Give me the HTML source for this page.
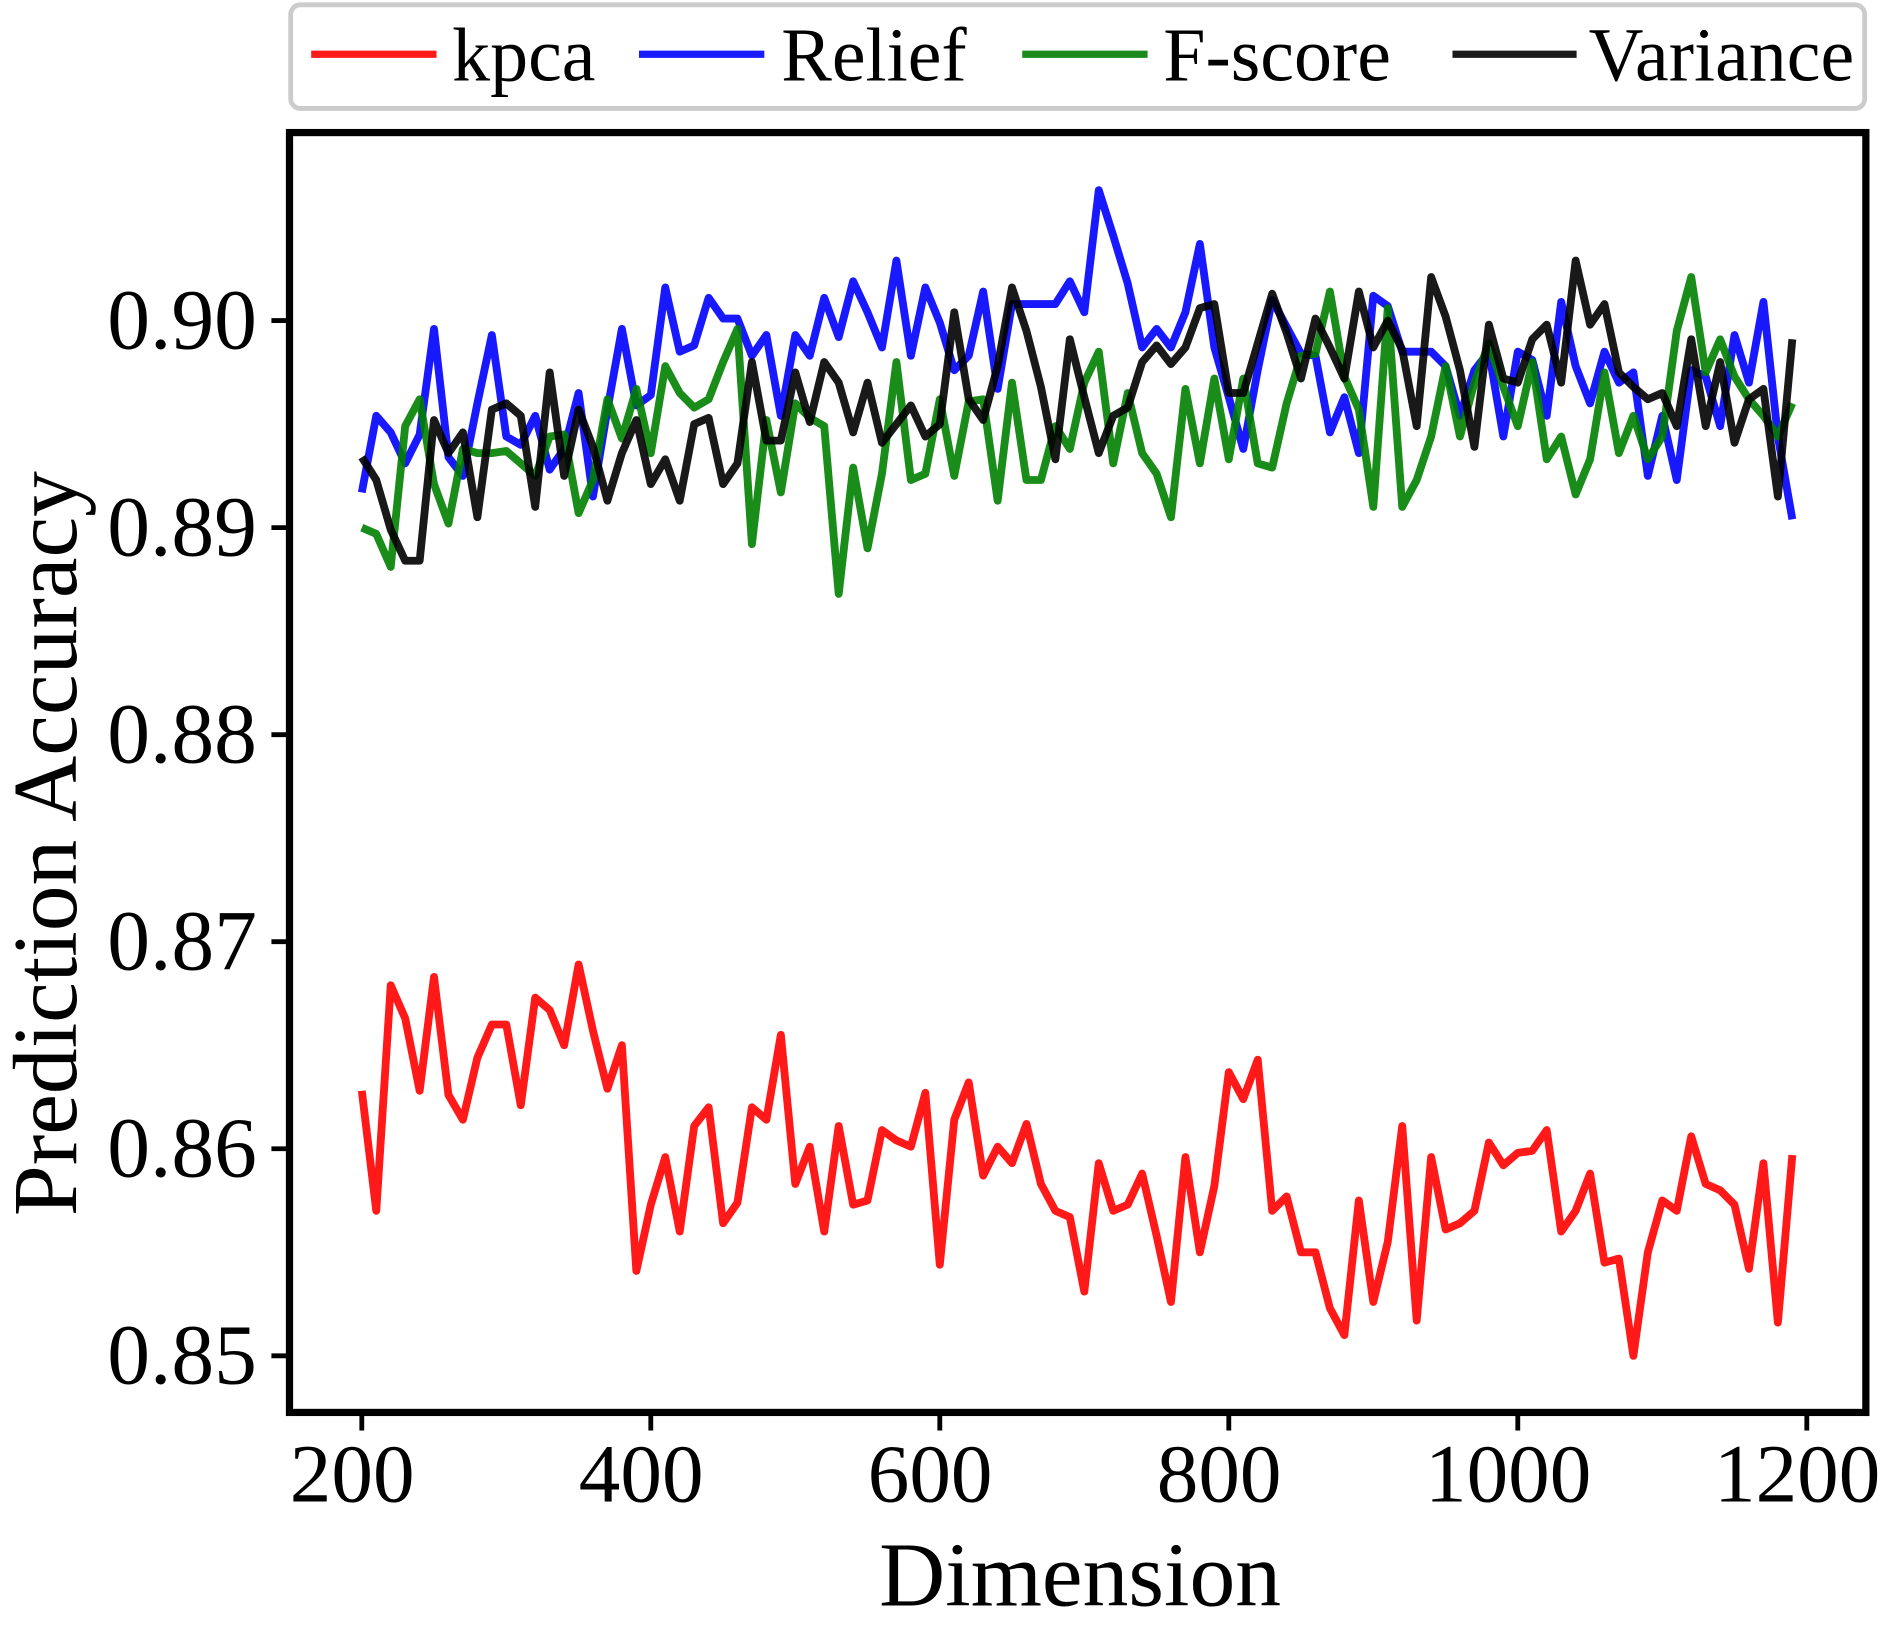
<!DOCTYPE html>
<html><head><meta charset="utf-8"><style>
html,body{margin:0;padding:0;background:#fff;}
svg{display:block;}
text{font-family:"Liberation Serif",serif;fill:#000;}
</style></head><body>
<svg id="chart" width="1889" height="1633" viewBox="0 0 1567 1355" xmlns="http://www.w3.org/2000/svg">
<g id="legend">
<rect x="241" y="4" width="1306" height="86" rx="8" fill="#fff" stroke="#cccccc" stroke-width="4"/>
<g><line x1="258" y1="45" x2="362" y2="45" stroke="#ff1a1a" stroke-width="6"/><text x="375" y="67" font-size="63">kpca</text></g>
<g><line x1="530" y1="45" x2="634" y2="45" stroke="#1a1aff" stroke-width="6"/><text x="648" y="67" font-size="63">Relief</text></g>
<g><line x1="848" y1="45" x2="952" y2="45" stroke="#1a8a1a" stroke-width="6"/><text x="965" y="67" font-size="63">F-score</text></g>
<g><line x1="1205" y1="45" x2="1308" y2="45" stroke="#1a1a1a" stroke-width="6"/><text x="1318" y="67" font-size="63">Variance</text></g>
</g>
<g id="series"></g>
<rect x="240" y="110" width="1308" height="1062" fill="none" stroke="#000" stroke-width="6"/>
<g id="axes"></g>
<text x="896" y="1332" font-size="76" text-anchor="middle">Dimension</text>
<text transform="translate(63,700) rotate(-90)" font-size="76" text-anchor="middle">Prediction Accuracy</text>
</svg>
<script>
const xTicks = [200,400,600,800,1000,1200];
const yTicks = [0.85,0.86,0.87,0.88,0.89,0.90];
const yTickLabels = ["0.85","0.86","0.87","0.88","0.89","0.90"];
const dims = [];
for (let d = 200; d <= 1190; d += 10) dims.push(d);
const kpca = [0.8628,0.857,0.8679,0.8663,0.8628,0.8683,0.8626,0.8614,0.8644,0.866,
0.866,0.8621,0.8673,0.8667,0.865,0.8689,0.8657,0.8629,0.865,0.8541,
0.8573,0.8596,0.856,0.8611,0.862,0.8564,0.8574,0.862,0.8614,0.8655,
0.8583,0.8601,0.856,0.8611,0.8573,0.8575,0.8609,0.8604,0.8601,0.8627,
0.8544,0.8614,0.8632,0.8587,0.8601,0.8593,0.8612,0.8583,0.857,0.8567,
0.8531,0.8593,0.857,0.8573,0.8588,0.8558,0.8526,0.8596,0.855,0.8582,
0.8637,0.8624,0.8643,0.857,0.8577,0.855,0.855,0.8523,0.851,0.8575,
0.8526,0.8555,0.8611,0.8517,0.8596,0.8561,0.8564,0.857,0.8603,0.8592,
0.8598,0.8599,0.8609,0.856,0.857,0.8588,0.8545,0.8547,0.85,0.855,
0.8575,0.857,0.8606,0.8583,0.858,0.8573,0.8542,0.8593,0.8516,0.8597];
const relief = [0.8917,0.8954,0.8946,0.8931,0.8945,0.8996,0.8934,0.8925,0.896,0.8993,
0.8944,0.894,0.8954,0.8928,0.8938,0.8965,0.8915,0.8957,0.8996,0.8959,
0.8964,0.9016,0.8985,0.8988,0.9011,0.9001,0.9001,0.8983,0.8993,0.8954,
0.8993,0.8983,0.9011,0.8992,0.9019,0.9004,0.8987,0.9029,0.8983,0.9016,
0.8999,0.8976,0.8983,0.9014,0.8967,0.9008,0.9008,0.9008,0.9008,0.9019,
0.9004,0.9063,0.9041,0.9018,0.8987,0.8996,0.8987,0.9004,0.9037,0.8987,
0.8963,0.8938,0.8976,0.901,0.8997,0.8984,0.8983,0.8946,0.8963,0.8936,
0.9012,0.9007,0.8985,0.8985,0.8985,0.8978,0.8954,0.8976,0.8985,0.8944,
0.8985,0.8981,0.8954,0.9009,0.8978,0.896,0.8985,0.897,0.8975,0.8925,
0.8954,0.8923,0.8976,0.8973,0.8949,0.8993,0.897,0.9009,0.8944,0.8904];
const fscore = [0.89,0.8897,0.8881,0.8949,0.8962,0.8921,0.8902,0.8938,0.8936,0.8936,
0.8937,0.8931,0.8925,0.8944,0.8945,0.8907,0.8923,0.8962,0.8943,0.8967,
0.8936,0.8978,0.8965,0.8958,0.8962,0.898,0.8996,0.8892,0.8952,0.8917,
0.896,0.8953,0.8949,0.8868,0.8929,0.889,0.8926,0.898,0.8923,0.8926,
0.8962,0.8925,0.8961,0.8962,0.8913,0.897,0.8923,0.8923,0.8949,0.8938,
0.897,0.8985,0.8931,0.8965,0.8936,0.8926,0.8905,0.8967,0.8931,0.8972,
0.8933,0.8972,0.8931,0.8929,0.896,0.8983,0.8984,0.9014,0.8973,0.8957,
0.891,0.9006,0.891,0.8923,0.8944,0.8978,0.8944,0.897,0.8989,0.8968,
0.8949,0.898,0.8933,0.8944,0.8916,0.8933,0.8975,0.8936,0.8954,0.8933,
0.8944,0.8995,0.9021,0.8975,0.8991,0.8973,0.8962,0.8954,0.8944,0.896];
const variance = [0.8934,0.8923,0.8899,0.8884,0.8884,0.8952,0.8936,0.8946,0.8905,0.8957,
0.896,0.8954,0.891,0.8975,0.8925,0.8957,0.8939,0.8913,0.8936,0.8952,
0.8921,0.8933,0.8913,0.895,0.8953,0.8921,0.8931,0.898,0.8942,0.8942,
0.8975,0.8951,0.898,0.897,0.8946,0.897,0.8941,0.895,0.8959,0.8944,
0.895,0.9004,0.8962,0.8952,0.8978,0.9016,0.8995,0.8968,0.8933,0.8991,
0.8963,0.8936,0.8954,0.8958,0.898,0.8988,0.8979,0.8987,0.9006,0.9008,
0.8965,0.8965,0.8989,0.9013,0.8994,0.8972,0.9001,0.8987,0.8972,0.9014,
0.8987,0.9,0.8986,0.8949,0.9021,0.9002,0.8976,0.8939,0.8998,0.8972,
0.897,0.8991,0.8998,0.897,0.9029,0.8998,0.9008,0.8975,0.8968,0.8962,
0.8965,0.8949,0.8991,0.8949,0.898,0.8941,0.8962,0.8967,0.8915,0.8991];

const NS = "http://www.w3.org/2000/svg";
function xScale(d){ return 300 + (d - 200) * 1199 / 1000; }
function yScale(v){ return 266 + (0.90 - v) * 17180; }

const seriesG = document.getElementById("series");
function drawSeries(vals, color, name){
  const p = document.createElementNS(NS, "polyline");
  p.setAttribute("points", vals.map((v,i)=>xScale(dims[i]).toFixed(1)+","+yScale(v).toFixed(1)).join(" "));
  p.setAttribute("fill", "none");
  p.setAttribute("stroke", color);
  p.setAttribute("stroke-width", "6.5");
  p.setAttribute("stroke-linejoin", "round");
  p.setAttribute("stroke-opacity", "0.9");
  
  
  seriesG.appendChild(p);
}
drawSeries(kpca, "#ff0000", "kpca-line");
drawSeries(relief, "#0000ff", "relief-line");
drawSeries(fscore, "#007f00", "fscore-line");
drawSeries(variance, "#000000", "variance-line");

const axesG = document.getElementById("axes");
xTicks.forEach(t=>{
  const x = xScale(t);
  const l = document.createElementNS(NS, "line");
  l.setAttribute("x1", x); l.setAttribute("x2", x);
  l.setAttribute("y1", 1172); l.setAttribute("y2", 1187);
  l.setAttribute("stroke", "#000"); l.setAttribute("stroke-width", "4");
  
  
  axesG.appendChild(l);
  const tx = document.createElementNS(NS, "text");
  tx.setAttribute("x", x - 8); tx.setAttribute("y", 1246);
  tx.setAttribute("font-size", "69"); tx.setAttribute("text-anchor", "middle");
  tx.textContent = String(t);
  
  
  axesG.appendChild(tx);
});
yTicks.forEach((t,i)=>{
  const y = yScale(t);
  const l = document.createElementNS(NS, "line");
  l.setAttribute("x1", 225); l.setAttribute("x2", 240);
  l.setAttribute("y1", y); l.setAttribute("y2", y);
  l.setAttribute("stroke", "#000"); l.setAttribute("stroke-width", "4");
  
  
  axesG.appendChild(l);
  const tx = document.createElementNS(NS, "text");
  tx.setAttribute("x", 213); tx.setAttribute("y", y + 23);
  tx.setAttribute("font-size", "71"); tx.setAttribute("text-anchor", "end");
  tx.textContent = yTickLabels[i];
  
  
  axesG.appendChild(tx);
});
</script>
</body></html>
